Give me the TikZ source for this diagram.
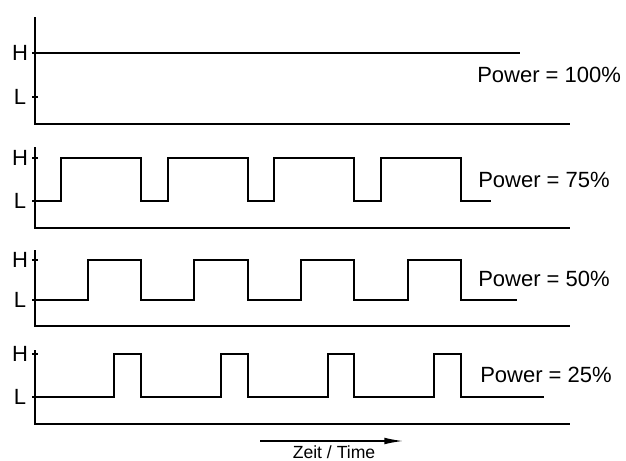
\documentclass[tikz,border=0pt]{standalone}
\usepackage{fontspec}
\setmainfont{Liberation Sans}
\usetikzlibrary{arrows.meta}

\begin{document}
\begin{tikzpicture}[x=0.75pt,y=-0.75pt,
    axis/.style={line width=2.2pt},
    signal/.style={line width=1.5pt},
    level/.style={font=\fontsize{16.5}{18}\selectfont},
    power/.style={font=\fontsize{16.5}{18}\selectfont,anchor=west,inner sep=0pt}]
\useasboundingbox (0,0) rectangle (626,461);

% Power = 100%
\draw[axis] (35,17) -- (35,124) -- (570,124);
\draw[line width=1.2pt] (32,53) -- (38,53) (32,97) -- (38,97);
\node[level] (h1) at (20,53) {H};
\node[level] (l1) at (20,97) {L};
\draw[signal] (35,53) -- (520,53);
\node[power] (p1) at (477,75) {Power = 100\%};

% Power = 75%, 50%, 25%
\foreach \top/\yH/\yL/\base/\d/\tx/\ty/\pct/\i in
    {147/158/201/228/0.75/478/180/75/2,
     250/260/300/326/0.5/478/279/50/3,
     350/354/397/424/0.25/480/375/25/4} {
  \draw[axis] (35,\top) -- (35,\base) -- (570,\base);
  \draw[line width=1.2pt] (32,\yH) -- (38,\yH) (32,\yL) -- (38,\yL);
  \node[level] (h\i) at (20,\yH) {H};
  \node[level] (l\i) at (20,\yL) {L};
  \draw[signal] (35,\yL)
    \foreach \k in {0,...,3} {
      -- ({141+106.7*\k-106.7*\d},\yL) -- ({141+106.7*\k-106.7*\d},\yH)
      -- ({141+106.7*\k},\yH) -- ({141+106.7*\k},\yL)}
    -- ({461+106.7*(1-\d)+3},\yL);
  \node[power] (p\i) at (\tx,\ty) {Power = \pct\%};
}

% time axis
\coordinate (t0) at (260,441);
\coordinate (t1) at (403,441);
\draw[line width=1pt,-{Latex[length=14pt,width=5pt]}] (t0) -- (t1);
\node[font=\fontsize{13.2}{14}\selectfont,anchor=base,inner sep=0pt] (time) at (334,458.5) {Zeit / Time};
\end{tikzpicture}
\end{document}
